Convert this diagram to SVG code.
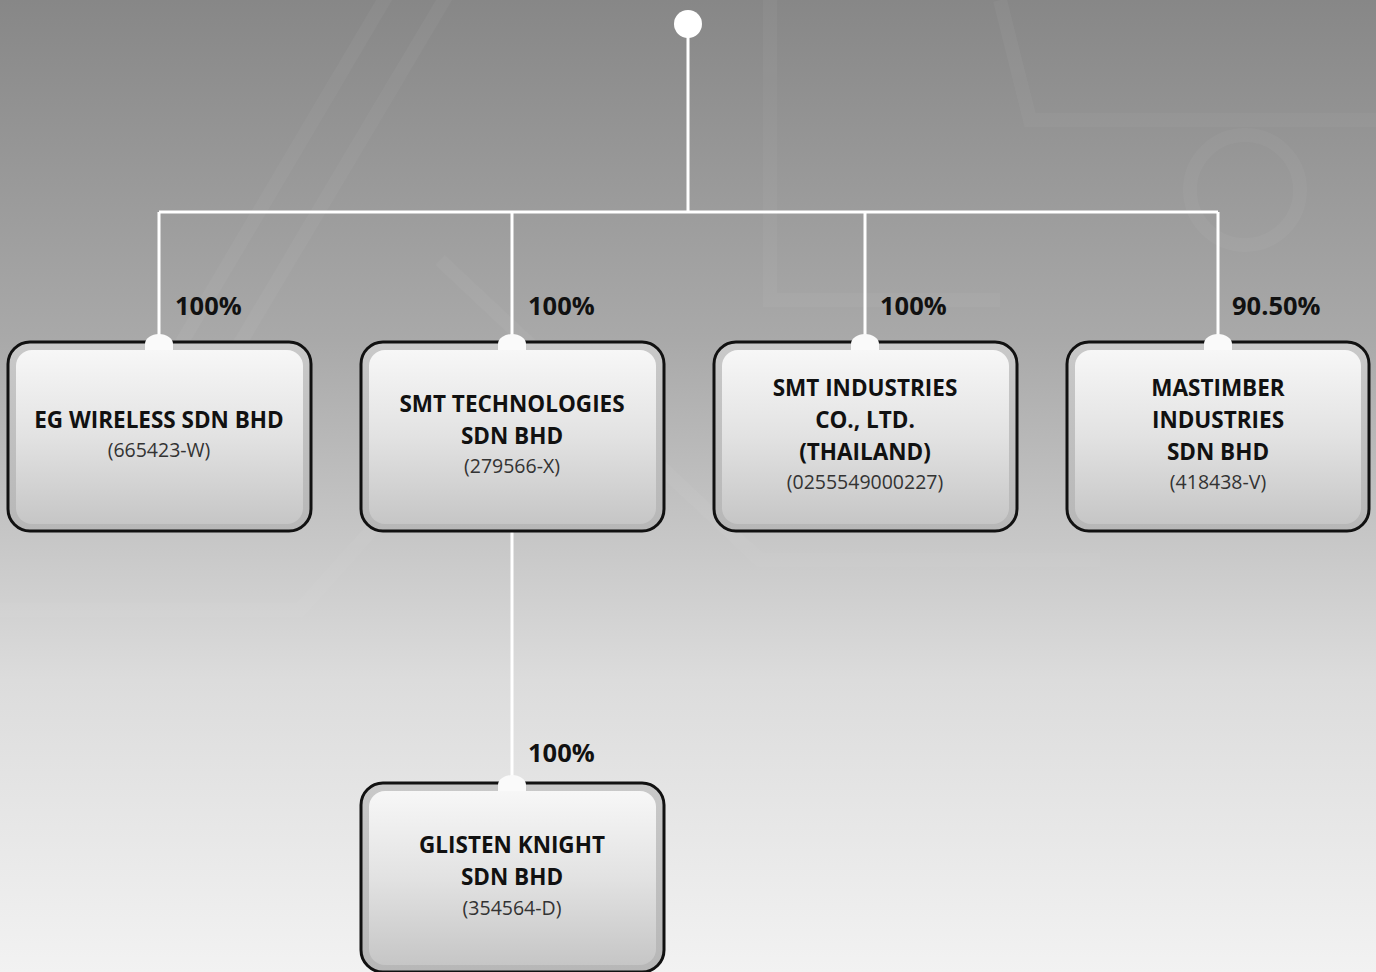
<svg xmlns="http://www.w3.org/2000/svg" width="1376" height="972" viewBox="0 0 1376 972">
<defs>
<linearGradient id="bg" x1="0" y1="0" x2="0" y2="1">
<stop offset="0" stop-color="#878787"/>
<stop offset="0.35" stop-color="#a9a9a9"/>
<stop offset="0.7" stop-color="#dcdcdc"/>
<stop offset="1" stop-color="#f2f2f2"/>
</linearGradient>
<linearGradient id="inner" x1="0" y1="0" x2="0" y2="1">
<stop offset="0" stop-color="#f7f7f7"/>
<stop offset="0.5" stop-color="#e2e2e2"/>
<stop offset="1" stop-color="#c6c6c6"/>
</linearGradient>
<linearGradient id="band" x1="0" y1="0" x2="0" y2="1">
<stop offset="0" stop-color="#c9c9c9"/>
<stop offset="1" stop-color="#b7b7b7"/>
</linearGradient>
<style>
.outer{fill:url(#band);stroke:#111;stroke-width:3}
.inner{fill:url(#inner)}
.tab{fill:#fafafa}
.conn{stroke:#fff;stroke-width:3;fill:none}
.bg{stroke:#fff;stroke-opacity:0.035;fill:none;stroke-width:14}
.t{font-family:"Open Sans","Noto Sans",sans-serif;font-weight:bold;font-size:22.5px;fill:#111;text-anchor:middle}
.s{font-family:"Open Sans","Noto Sans",sans-serif;font-size:19.5px;fill:#333;text-anchor:middle}
.p{font-family:"Open Sans","Noto Sans",sans-serif;font-weight:bold;font-size:25.5px;fill:#111}
</style>
</defs>
<rect width="1376" height="972" fill="url(#bg)"/>
<g id="background">
<path class="bg" d="M130 430 L390 -10"/>
<path class="bg" d="M230 360 L450 -10"/>
<path class="bg" d="M440 260 L760 560 L1100 560"/>
<path class="bg" d="M770 0 L770 300 L1000 300"/>
<path class="bg" d="M1000 0 L1030 120 L1376 120"/>
<circle class="bg" cx="1245" cy="190" r="55" stroke-width="18"/>
<path class="bg" d="M0 610 L300 610 L470 420"/>
</g>
<g id="connectors">
<circle cx="688" cy="24" r="14" fill="#fff"/>
<path class="conn" d="M688 24 V212 M159 212 H1218 M159 212 V345 M512 212 V345 M865 212 V345 M1218 212 V345 M512 523 V786"/>
</g>
<g id="eg-wireless">
<rect class="outer" x="8" y="342" width="303" height="189" rx="22"/>
<rect class="inner" x="16" y="350" width="287" height="174" rx="16"/>
<path class="tab" d="M145 350 V344 A14 10 0 0 1 173 344 V350 Z"/>
<text class="p" x="175" y="315">100%</text>
<text class="t" x="159" y="428">EG WIRELESS SDN BHD</text>
<text class="s" x="159" y="457">(665423-W)</text>
</g>
<g id="smt-technologies">
<rect class="outer" x="361" y="342" width="303" height="189" rx="22"/>
<rect class="inner" x="369" y="350" width="287" height="174" rx="16"/>
<path class="tab" d="M498 350 V344 A14 10 0 0 1 526 344 V350 Z"/>
<text class="p" x="528" y="315">100%</text>
<text class="t" x="512" y="412">SMT TECHNOLOGIES</text>
<text class="t" x="512" y="444">SDN BHD</text>
<text class="s" x="512" y="473">(279566-X)</text>
</g>
<g id="smt-industries">
<rect class="outer" x="714" y="342" width="303" height="189" rx="22"/>
<rect class="inner" x="722" y="350" width="287" height="174" rx="16"/>
<path class="tab" d="M851 350 V344 A14 10 0 0 1 879 344 V350 Z"/>
<text class="p" x="880" y="315">100%</text>
<text class="t" x="865" y="396">SMT INDUSTRIES</text>
<text class="t" x="865" y="428">CO., LTD.</text>
<text class="t" x="865" y="460">(THAILAND)</text>
<text class="s" x="865" y="489">(0255549000227)</text>
</g>
<g id="mastimber">
<rect class="outer" x="1067" y="342" width="302" height="189" rx="22"/>
<rect class="inner" x="1075" y="350" width="286" height="174" rx="16"/>
<path class="tab" d="M1204 350 V344 A14 10 0 0 1 1232 344 V350 Z"/>
<text class="p" x="1232" y="315">90.50%</text>
<text class="t" x="1218" y="396">MASTIMBER</text>
<text class="t" x="1218" y="428">INDUSTRIES</text>
<text class="t" x="1218" y="460">SDN BHD</text>
<text class="s" x="1218" y="489">(418438-V)</text>
</g>
<g id="glisten-knight">
<rect class="outer" x="361" y="783" width="303" height="189" rx="22"/>
<rect class="inner" x="369" y="791" width="287" height="174" rx="16"/>
<path class="tab" d="M498 791 V785 A14 10 0 0 1 526 785 V791 Z"/>
<text class="p" x="528" y="762">100%</text>
<text class="t" x="512" y="853">GLISTEN KNIGHT</text>
<text class="t" x="512" y="885">SDN BHD</text>
<text class="s" x="512" y="915">(354564-D)</text>
</g>
</svg>
